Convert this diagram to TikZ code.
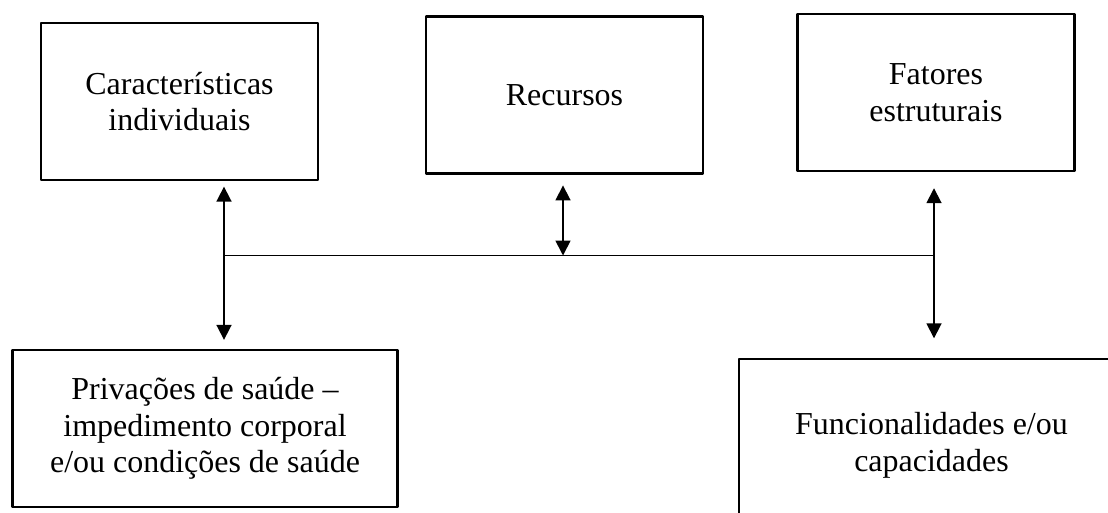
\documentclass[tikz,border=0pt]{standalone}
\usepackage{fontspec}
\setmainfont{Liberation Serif}
\usetikzlibrary{arrows.meta}
\begin{document}
\begin{tikzpicture}[x=0.02cm, y=-0.02cm, line join=round, >={Triangle[length=3mm,width=3mm]},
		caixa/.style={draw, line width=1.6pt, minimum width=5.54cm, minimum height=3.14cm, align=center, font=\fontsize{18.2}{20.8}\selectfont},
		caixa larga/.style={caixa, minimum width=7.7cm},
		seta/.style={<->, line width=1pt}]
	\useasboundingbox (0,0) rectangle (1108,512);
	\clip (0,0) rectangle (1108,512);
	\node[caixa] (car) at (179.5,101.5) {Características\\individuais};
	\node[caixa] (rec) at (564.5,95) {Recursos};
	\node[caixa] (fat) at (936,92.5) {Fatores\\estruturais};
	\node[caixa larga] (pri) at (205,428.5) {Privações de saúde –\\impedimento corporal\\e/ou condições de saúde};
	\node[caixa larga, minimum height=3.46cm] (fun) at (931.5,445.5) {Funcionalidades e/ou\\capacidades};
	\coordinate (jl) at (224,255.5);
	\coordinate (jr) at (934,255.5);
	\draw[line width=1pt] (jl) -- (jr);
	\draw[seta, shorten <=3, shorten >=5] (jl |- car.south) -- (jl |- pri.north);
	\draw[seta, shorten <=6] (rec.south -| 563,0) -- (563,0 |- jl);
	\draw[seta, shorten <=9, shorten >=11] (jr |- fat.south) -- (jr |- fun.north);
\end{tikzpicture}
\end{document}
